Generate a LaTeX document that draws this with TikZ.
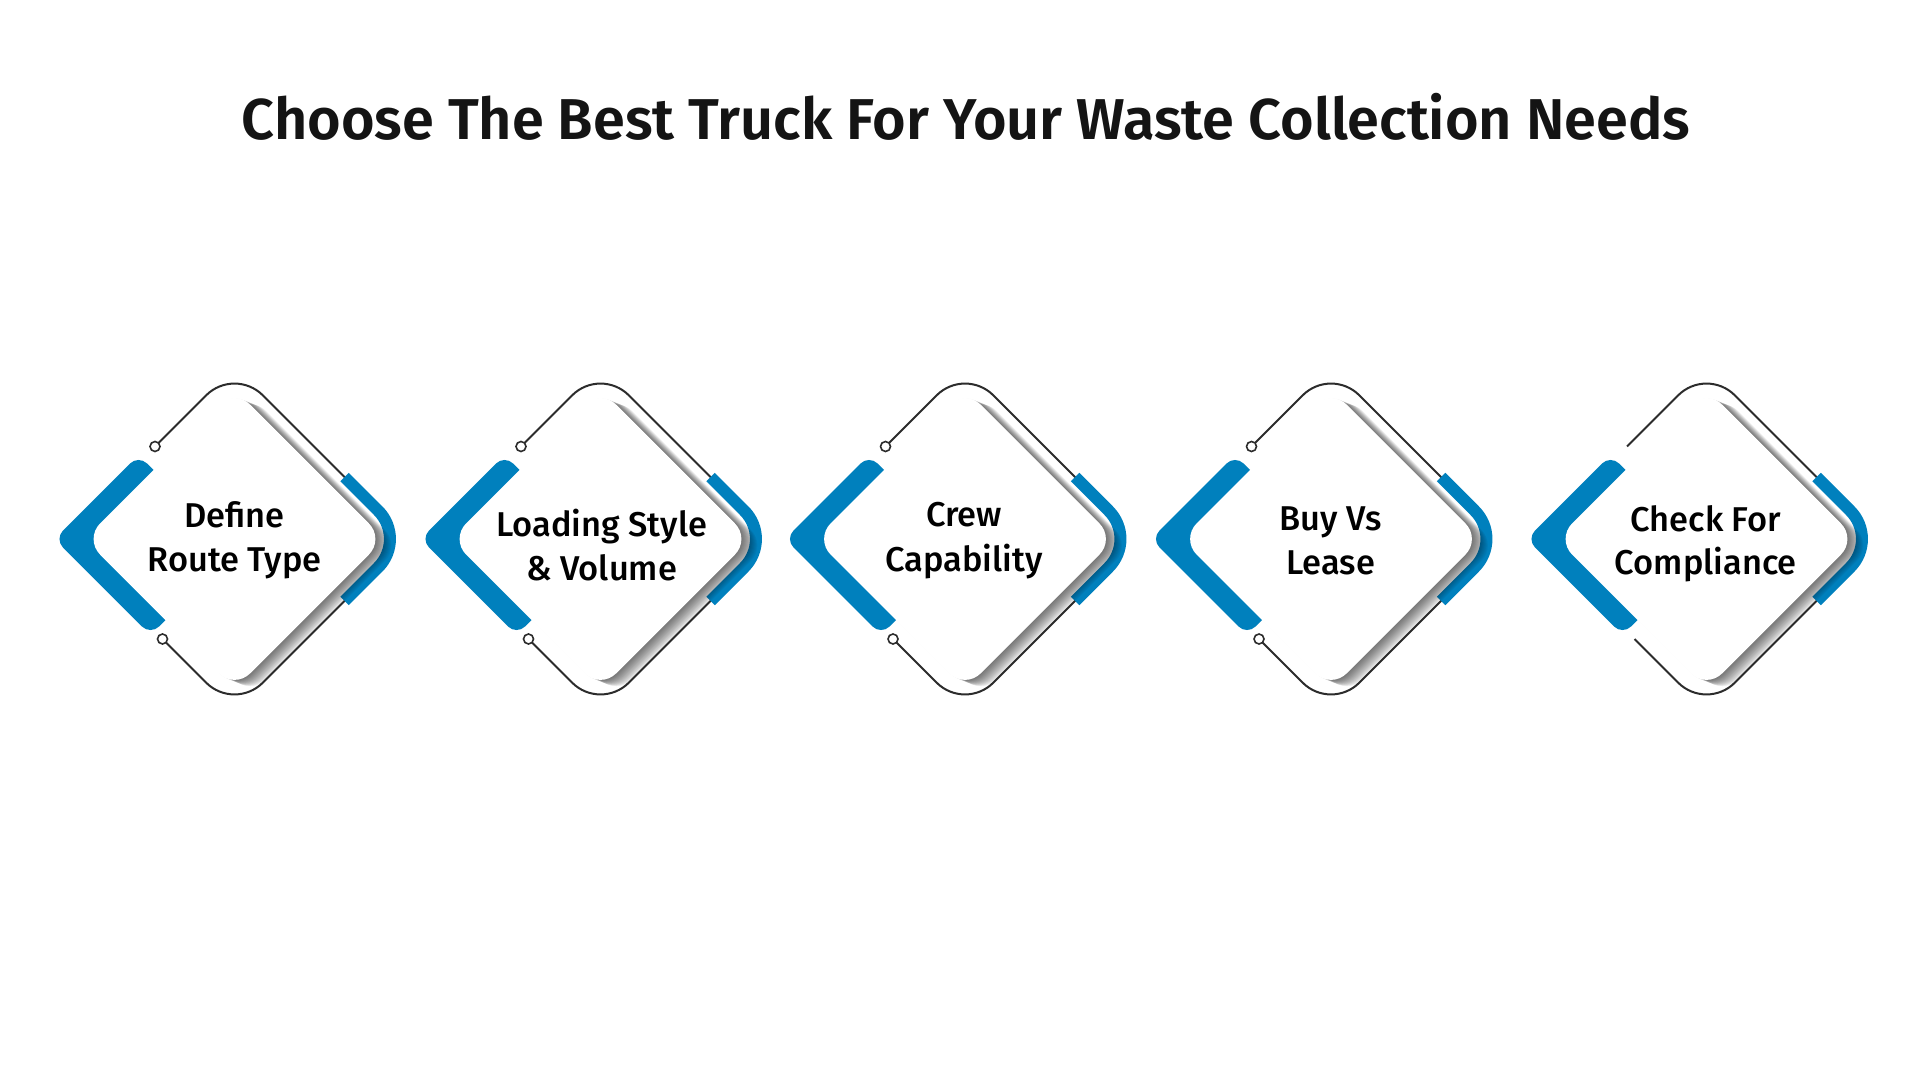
\documentclass[tikz,border=0pt]{standalone}
\usepackage{fontspec}
\setmainfont{Fira Sans}
\newfontfamily\medfont{Fira Sans Medium}
\newfontfamily\semifont{Fira Sans SemiBold}
\definecolor{gemblue}{RGB}{0,128,189}
\definecolor{inkc}{RGB}{20,20,20}
\tikzset{
  outline/.style={draw=inkc!90, line width=1pt, rounded corners=20pt},
  bandR/.style={draw=gemblue, line width=6pt, rounded corners=20pt},
  bandL/.style={fill=gemblue, rounded corners=6pt},
  gemwhite/.style={fill=white, rounded corners=11pt},
  dotc/.style={draw=inkc!90, fill=white, line width=0.8pt},
  lbl/.style={font=\medfont\fontsize{17.2pt}{20pt}\selectfont, text=black, inner sep=0pt, anchor=base},
  ttl/.style={font=\semifont\fontsize{28.8pt}{34pt}\selectfont, text=inkc, inner sep=0pt, anchor=base}
}
\begin{document}
\begin{tikzpicture}[x=0.5pt, y=-0.5pt]
\useasboundingbox[fill=white] (0,0) rectangle (1920,1080);

\node[ttl] (title) at (966,140) {Choose The Best Truck For Your Waste Collection Needs};

\foreach \cx/\hasdot in {234.5/1, 600.5/1, 965/1, 1331/1, 1706.5/0} {
  \begin{scope}[shift={(\cx,539)}]
    % thin outline
    \draw[outline] (-79.5,-92.5) -- (0,-172) -- (172,0) -- (0,172) -- (-72,100);
    \ifnum\hasdot=1
      \filldraw[dotc] (-79.5,-92.5) circle[radius=5];
      \filldraw[dotc] (-72,100) circle[radius=5];
    \fi
    % right blue band
    \draw[bandR] (110,-62) -- (172,0) -- (110,62);
    % left blue band
    \fill[bandL] (-138,-42) -- (-96,-84) -- (-56,-44) -- (-100,0) -- (-44,56) -- (-84,96) -- (-180,0) -- cycle;
    % shadow
    \foreach \k in {1,...,16} {
      \fill[black, opacity=0.045, rounded corners=11pt, shift={({\k*1.0},{\k*0.4})}]
        (-75,-75) -- (0,-150) -- (150,0) -- (0,150) -- (-150,0) -- cycle;
    }
    % white face
    \fill[gemwhite] (-75,-75) -- (0,-150) -- (150,0) -- (0,150) -- (-150,0) -- cycle;
  \end{scope}
}

\node[lbl] (d1a) at (234.5,527.7) {Define};
\node[lbl] (d1b) at (234.5,571.7) {Route Type};
\node[lbl] (d2a) at (601.5,536.7) {Loading Style};
\node[lbl] (d2b) at (601.5,580) {\& Volume};
\node[lbl] (d3a) at (964,526.7) {Crew};
\node[lbl] (d3b) at (964,571.7) {Capability};
\node[lbl] (d4a) at (1330.5,530) {Buy Vs};
\node[lbl] (d4b) at (1330.5,574) {Lease};
\node[lbl] (d5a) at (1705.8,531) {Check For};
\node[lbl] (d5b) at (1705.8,574) {Compliance};
\end{tikzpicture}
\end{document}
